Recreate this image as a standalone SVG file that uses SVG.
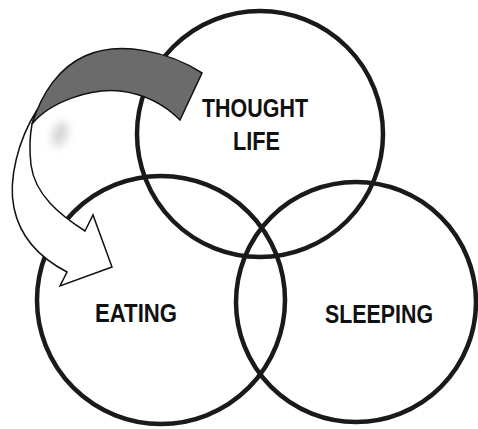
<svg xmlns="http://www.w3.org/2000/svg" width="478" height="429" viewBox="0 0 478 429">
  <style>
    .ring { fill: none; stroke: #1a1a1a; stroke-width: 4.5; }
    .label { font-family: "Liberation Sans", Arial, sans-serif; font-weight: bold; font-size: 25px; fill: #111; text-anchor: middle; }
    .arrow { stroke: #111; stroke-width: 1.5; stroke-linejoin: miter; }
  </style>
  <defs>
    <filter id="soft" x="-100%" y="-100%" width="300%" height="300%">
      <feGaussianBlur stdDeviation="5"/>
    </filter>
  </defs>
  <rect width="478" height="429" fill="#fff"/>
  <g id="thought-life">
    <circle class="ring" cx="260" cy="134" r="123"/>
    <text class="label" x="255" y="117" textLength="106" lengthAdjust="spacingAndGlyphs">THOUGHT</text>
    <text class="label" x="256.5" y="150" textLength="47" lengthAdjust="spacingAndGlyphs">LIFE</text>
  </g>
  <g id="eating">
    <circle class="ring" cx="161" cy="300" r="124"/>
    <text class="label" x="136" y="322" textLength="82" lengthAdjust="spacingAndGlyphs">EATING</text>
  </g>
  <g id="sleeping">
    <circle class="ring" cx="356" cy="302" r="120"/>
    <text class="label" x="379" y="323" textLength="108" lengthAdjust="spacingAndGlyphs">SLEEPING</text>
  </g>
  <g id="connectors">
    <path class="arrow" fill="#fff" d="M37,110 C18,140 8,180 14,208 C20,237 40,258 67,272 L60,286 L112,267 L93,215 L85,231 C60,215 35,195 31,165 C29,148 30,135 32,124 Z"/>
    <ellipse cx="60" cy="134" rx="7" ry="13" transform="rotate(20 60 134)" fill="#d2d2d2" filter="url(#soft)"/>
    <path class="arrow" fill="#6b6b6b" d="M202,73 C170,52 120,40 85,56 C60,67 42,92 32,124 C50,102 90,88 120,91 C145,94 165,105 180,120 Z"/>
  </g>
</svg>
